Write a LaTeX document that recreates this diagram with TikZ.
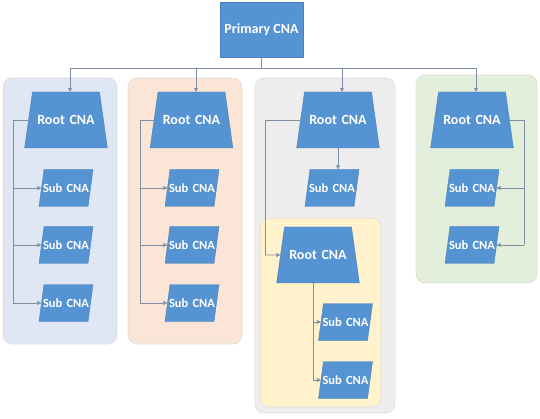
\documentclass[tikz,border=0pt]{standalone}
\usepackage{fontspec}
\setmainfont{Carlito}
\usepackage{xcolor}
\usetikzlibrary{shapes.geometric, arrows.meta, positioning}

\definecolor{cnablue}{HTML}{5593D3}
\definecolor{cnaedge}{HTML}{4A82BC}
\definecolor{linkgray}{HTML}{8090A4}
\definecolor{panelblue}{HTML}{DEE7F3}
\definecolor{panelorange}{HTML}{FBE5D6}
\definecolor{panelgray}{HTML}{EDEDED}
\definecolor{panelgreen}{HTML}{E3EFDB}
\definecolor{panelyellow}{HTML}{FFF2CC}

\tikzset{
  cna/.style={fill=cnablue, draw=cnaedge, line width=0.4pt, text=white, align=center},
  primary/.style={cna, rectangle, inner sep=0pt, minimum width=83pt, minimum height=55pt,
    font=\bfseries\fontsize{14}{16}\selectfont},
  root/.style={cna, trapezium, trapezium left angle=82, trapezium right angle=82,
    text width=61pt, text height=9pt, text depth=0pt, inner xsep=3pt, inner ysep=23.5pt,
    font=\bfseries\fontsize{14}{16}\selectfont},
  sub/.style={cna, trapezium, trapezium left angle=82.3, trapezium right angle=97.7,
    text width=50pt, text height=8.2pt, text depth=0pt, inner xsep=-3pt, inner ysep=14.4pt,
    font=\bfseries\fontsize{12.5}{14}\selectfont},
  panel/.style={rounded corners=9pt, draw=black!13, line width=0.6pt},
  link/.style={draw=linkgray, line width=0.6pt},
  arr/.style={link, -{Triangle[length=4pt,width=4pt]}},
}

\begin{document}
\begin{tikzpicture}[x=1pt, y=-1pt]
\useasboundingbox (0,0) rectangle (540,419);
%
% panels
\draw[panel, fill=panelblue]   (3,78)    rectangle (117,344);
\draw[panel, fill=panelorange] (128,78)  rectangle (242,344);
\draw[panel, fill=panelgray]   (255,78)  rectangle (395,413);
\draw[panel, fill=panelgreen]  (416,75)  rectangle (537,283);
\draw[panel, fill=panelyellow] (260,218) rectangle (381,407);
%
\node[primary] (prim) at (261.5,29.5) {Primary CNA};
%
\node[root] (rootA) at (66,120)    {Root CNA};
\node[root] (rootB) at (191.5,120) {Root CNA};
\node[root] (rootC) at (338,120)   {Root CNA};
\node[root] (rootD) at (472,120)   {Root CNA};
\node[root] (rootE) at (318,255)   {Root CNA};
%
\node[sub] (subA1) at (66,188) {Sub CNA};
\node[sub] (subA2) at (66,245) {Sub CNA};
\node[sub] (subA3) at (66,303) {Sub CNA};
\node[sub] (subB1) at (192,188) {Sub CNA};
\node[sub] (subB2) at (192,245) {Sub CNA};
\node[sub] (subB3) at (192,303) {Sub CNA};
\node[sub] (subC1) at (332,188) {Sub CNA};
\node[sub] (subD1) at (472,188) {Sub CNA};
\node[sub] (subD2) at (472,245) {Sub CNA};
\node[sub] (subE1) at (345.5,322) {Sub CNA};
\node[sub] (subE2) at (345.5,380) {Sub CNA};
%
% top bar
\coordinate (dropA) at (70,68);
\coordinate (dropB) at (196,68);
\coordinate (dropC) at (342,68);
\coordinate (dropD) at (476,68);
\draw[link] (prim.south) -- (prim.south |- dropA);
\draw[link] (dropA) -- (dropD);
\foreach \d/\r in {dropA/rootA, dropB/rootB, dropC/rootC, dropD/rootD}
  \draw[arr] (\d) -- (\d |- \r.north);
%
% buses
\coordinate (busA) at (13,303);
\coordinate (busB) at (140,303);
\coordinate (busC) at (265,255);
\coordinate (busD) at (524,245);
\coordinate (busE) at (313,380);
%
\draw[link] (rootA.west) -| (busA);
\foreach \s in {subA1,subA2,subA3}
  \draw[arr] (\s.west -| busA) -- (\s.west);
\draw[link] (rootB.west) -| (busB);
\foreach \s in {subB1,subB2,subB3}
  \draw[arr] (\s.west -| busB) -- (\s.west);
\draw[arr] (rootC.south) -- (rootC.south |- subC1.north);
\draw[link] (rootC.west) -| (busC);
\draw[arr] (busC) -- (rootE.west);
\draw[link] (rootD.east) -| (busD);
\foreach \s in {subD1,subD2}
  \draw[arr] (\s.east -| busD) -- (\s.east);
\draw[link] (busE |- rootE.south) -- (busE);
\foreach \s in {subE1,subE2}
  \draw[arr] (\s.west -| busE) -- (\s.west);
%
\end{tikzpicture}
\end{document}
